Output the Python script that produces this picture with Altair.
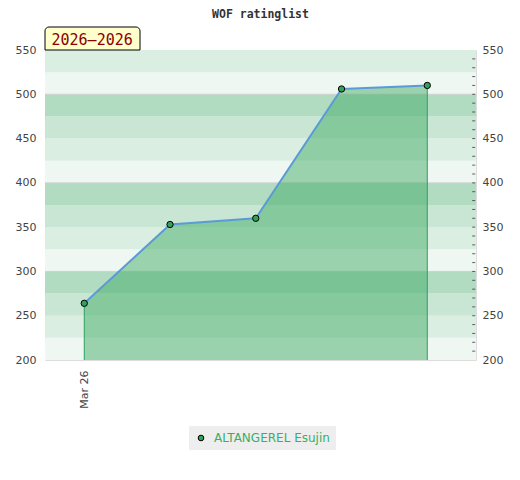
import json
import altair as alt
import pandas as pd

# ---------------- data ----------------
title_text = "WOF ratinglist"
badge_text = "2026–2026"
player = "ALTANGEREL Esujin"

x_index = [0, 1, 2, 3, 4]
ratings = [264, 353, 360, 506, 510]
x_labels = ["Mar 26"]
x_label_pos = [0]

y_labels = [200, 250, 300, 350, 400, 450, 500, 550]
grid_values = [300, 400, 500]
right_ticks = [210, 220, 230, 240, 250, 260, 270, 280, 290, 300, 310, 320, 330,
               340, 350, 360, 370, 380, 390, 400, 410, 420, 430, 440, 450, 460,
               470, 480, 490, 500, 510, 520, 530, 540]
band_starts = [200, 225, 250, 275, 300, 325, 350, 375, 400, 425, 450, 475, 500, 525]
band_shades = ["#eef7f1", "#dbeee2", "#c8e6d3", "#b2dcc2"]

# ---------------- layout/style ----------------
W, H = 431, 310
XDOM = [-0.458, 4.568]
YDOM = [200, 550]

xs = alt.Scale(domain=XDOM, nice=False, zero=False)
ys = alt.Scale(domain=YDOM, nice=False, zero=False)

df = pd.DataFrame({"i": x_index, "r": ratings, "series": [player] * len(ratings)})
bands = pd.DataFrame({
    "lo": band_starts,
    "hi": [b + 25 for b in band_starts],
    "c": [band_shades[k % 4] for k in range(len(band_starts))],
})

label_lookup = json.dumps(x_labels)
x_axis = alt.Axis(
    values=x_label_pos,
    labelExpr=f"{label_lookup}[datum.value]",
    labelAngle=-90,
    ticks=False,
    domain=False,
    grid=False,
    labelPadding=10,
    labelFont="DejaVu Sans",
    labelFontSize=11,
    labelColor="#444",
    labelOverlap=False,
    labelBound=False,
    title=None,
)

left_axis = alt.Axis(
    orient="left", values=y_labels, ticks=False, domain=False, grid=False,
    labelPadding=9, labelFont="DejaVu Sans", labelFontSize=11,
    labelColor="#444", title=None,
)
right_axis = alt.Axis(
    orient="right", values=y_labels, ticks=False, domain=False, grid=False,
    labelPadding=6, labelFont="DejaVu Sans", labelFontSize=11,
    labelColor="#444", title=None,
)

X = alt.X("i:Q", scale=xs, axis=x_axis)

bands_layer = alt.Chart(bands).mark_rect().encode(
    x=alt.value(0),
    x2=alt.value(W),
    y=alt.Y("lo:Q", scale=ys, axis=left_axis),
    y2="hi:Q",
    fill=alt.Fill("c:N", scale=None),
)

grid_layer = alt.Chart(pd.DataFrame({"g": grid_values})).mark_rule(
    color="#d0d0d0", strokeWidth=1
).encode(y=alt.Y("g:Q", scale=ys, axis=None))

area_layer = alt.Chart(df).mark_area(
    fill="#3aa85f", fillOpacity=0.47
).encode(
    x=X,
    y=alt.Y("r:Q", scale=ys, axis=None),
    y2=alt.datum(YDOM[0]),
)

edge_layer = alt.Chart(df).transform_filter(
    (alt.datum.i == x_index[0]) | (alt.datum.i == x_index[-1])
).mark_rule(color="#2ca25f", strokeWidth=1).encode(
    x=X,
    y=alt.Y("r:Q", scale=ys, axis=None),
    y2=alt.datum(YDOM[0]),
)

line_layer = alt.Chart(df).mark_line(color="#5b9bd5", strokeWidth=2).encode(
    x=X,
    y=alt.Y("r:Q", scale=ys, axis=None),
)

points_layer = alt.Chart(df).mark_point(
    filled=True, shape="circle", size=40, stroke="black", strokeWidth=1, opacity=1
).encode(
    x=X,
    y=alt.Y("r:Q", scale=ys, axis=right_axis),
    fill=alt.Fill(
        "series:N",
        scale=alt.Scale(range=["#33a05c"]),
        legend=alt.Legend(
            orient="none", legendX=144, legendY=376, title=None,
            fillColor="#eeeeee", padding=6,
            labelColor="#3aae64", labelFont="DejaVu Sans", labelFontSize=12,
            labelOffset=7,
            symbolType="circle", symbolSize=32,
            symbolStrokeColor="black", symbolStrokeWidth=1,
        ),
    ),
)

ticks_layer = alt.Chart(pd.DataFrame({"t": right_ticks})).mark_tick(
    orient="horizontal", size=3, thickness=1, color="#222"
).encode(
    x=alt.value(W - 2.3),
    y=alt.Y("t:Q", scale=ys, axis=None),
)

badge_box = alt.Chart(pd.DataFrame({"t": [badge_text]})).mark_rect(
    fill="#ffffcc", stroke="black", strokeWidth=1,
    cornerRadiusTopLeft=4, cornerRadiusTopRight=4,
).encode(
    x=alt.value(0), x2=alt.value(95), y=alt.value(-23), y2=alt.value(0)
)
badge_text_layer = alt.Chart(pd.DataFrame({"t": [badge_text]})).mark_text(
    align="left", baseline="alphabetic", font="DejaVu Sans Mono",
    fontSize=15, color="#8b0000",
).encode(x=alt.value(6.5), y=alt.value(-5), text="t:N")

chart = alt.layer(
    bands_layer, grid_layer, area_layer, edge_layer, line_layer,
    points_layer, ticks_layer, badge_box, badge_text_layer,
).resolve_axis(y="independent").properties(
    width=W,
    height=H,
    title=alt.Title(
        title_text, font="DejaVu Sans Mono", fontSize=11.5, fontWeight="bold",
        color="#333", anchor="middle", offset=6,
    ),
    padding={"left": 7, "top": 1, "right": 5, "bottom": 5},
).configure_view(stroke="#d0d0d0", strokeWidth=1).configure(background="white")

chart.save("out.html", embed_options={"renderer": "svg", "actions": False})
